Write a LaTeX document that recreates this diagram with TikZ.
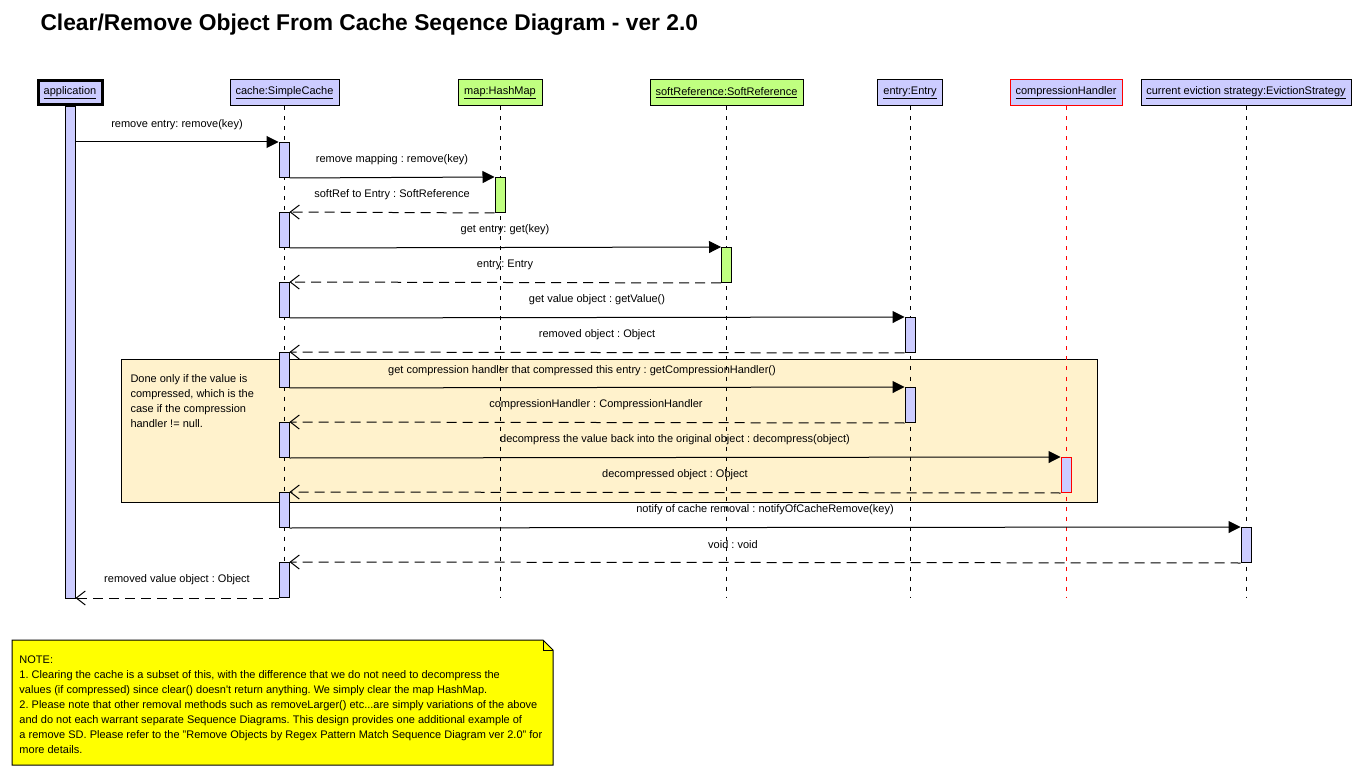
\documentclass[tikz,border=0pt]{standalone}
\usepackage{fontspec}
\setmainfont{Liberation Sans}
\usetikzlibrary{arrows.meta}
\definecolor{lav}{RGB}{204,204,255}
\definecolor{lgreen}{RGB}{192,255,128}
\definecolor{grpfill}{RGB}{255,242,204}
\definecolor{noteY}{RGB}{255,255,0}
\definecolor{redc}{RGB}{255,0,0}
\frenchspacing
\begin{document}
\begin{tikzpicture}[x=1pt,y=-1pt, line width=1pt,
 hdr/.style={draw, fill=lav, minimum height=26pt, inner sep=0pt, font=\fontsize{11}{13}\selectfont},
 bar/.style={draw, fill=lav, minimum width=10pt, minimum height=35pt, inner sep=0pt, anchor=north},
 lbl/.style={font=\fontsize{11}{13}\selectfont, inner sep=0pt},
 life/.style={dash pattern=on 4pt off 6pt},
 sync/.style={-{Triangle[length=12pt,width=12pt]}},
 ret/.style={dash pattern=on 10pt off 6pt, -{Straight Barb[length=9pt,width=14pt]}},
]
\useasboundingbox (0,0) rectangle (1362,775);
\fill[white] (0,0) rectangle (1362,775);

% title
\node[anchor=west, inner sep=0pt, font=\fontsize{22.8}{26}\selectfont\bfseries] (title) at (40,25) {Clear/Remove Object From Cache Seqence Diagram - ver 2.0};

% group box
\draw[fill=grpfill] (121,359) rectangle (1097,502);
\node[anchor=north west, align=left, inner sep=0pt, font=\fontsize{11}{15}\selectfont] (grptxt) at (130,374)
 {Done only if the value is\\compressed, which is the\\case if the compression\\handler != null.};

% headers
\node[hdr, line width=3pt, minimum width=64pt, minimum height=24pt] (happ) at (70,93) {\underline{application}};
\node[hdr, minimum width=109pt] (hcache) at (284.5,93) {\underline{cache:SimpleCache}};
\node[hdr, fill=lgreen, minimum width=84pt] (hmap) at (500,93) {\underline{map:HashMap}};
\node[hdr, fill=lgreen, minimum width=153pt] (hsoft) at (726.5,93) {\underline{softReference:SoftReference}};
\node[hdr, minimum width=65pt] (hentry) at (910,93) {\underline{entry:Entry}};
\node[hdr, draw=redc, minimum width=112pt] (hcomp) at (1066,93) {\underline{compressionHandler}};
\node[hdr, minimum width=210pt] (hevict) at (1246,93) {\underline{current eviction strategy:EvictionStrategy}};

% lifeline ends
\coordinate (ecache) at (284.5,597);
\coordinate (emap) at (500,597);
\coordinate (esoft) at (726.5,597);
\coordinate (eentry) at (910,597);
\coordinate (ecomp) at (1066,597);
\coordinate (eevict) at (1246,597);

\draw[life] (hcache.south) -- (ecache);
\draw[life] (hmap.south) -- (emap);
\draw[life] (hsoft.south) -- (esoft);
\draw[life] (hentry.south) -- (eentry);
\draw[life, draw=redc] (hcomp.south) -- (ecomp);
\draw[life] (hevict.south) -- (eevict);

% activation bars
\node[bar, minimum height=492pt] (abar) at (70,106) {};
\node[bar] (c1) at (284,142) {};
\node[bar] (c2) at (284,212) {};
\node[bar] (c3) at (284,282) {};
\node[bar] (c4) at (284,352) {};
\node[bar] (c5) at (284,422) {};
\node[bar] (c6) at (284,492) {};
\node[bar] (c7) at (284,562) {};
\node[bar, fill=lgreen] (m1) at (500,177) {};
\node[bar, fill=lgreen] (s1) at (726.5,247) {};
\node[bar] (e1) at (910,317) {};
\node[bar] (e2) at (910,387) {};
\node[bar, draw=redc] (h1) at (1066,457) {};
\node[bar] (v1) at (1246,527) {};

% messages
\draw[sync] (abar.east |- c1.north) -- (c1.north west);
\draw[sync] (c1.south east) -- (m1.north west);
\draw[ret] (m1.south west) -- (c2.north east);
\draw[sync] (c2.south east) -- (s1.north west);
\draw[ret] (s1.south west) -- (c3.north east);
\draw[sync] (c3.south east) -- (e1.north west);
\draw[ret] (e1.south west) -- (c4.north east);
\draw[sync] (c4.south east) -- (e2.north west);
\draw[ret] (e2.south west) -- (c5.north east);
\draw[sync] (c5.south east) -- (h1.north west);
\draw[ret] (h1.south west) -- (c6.north east);
\draw[sync] (c6.south east) -- (v1.north west);
\draw[ret] (v1.south west) -- (c7.north east);
\draw[ret] (c7.south west) -- (abar.east |- c7.south);

% labels
\node[lbl] (l1) at (177,125) {remove entry: remove(key)};
\node[lbl] (l2) at (392,160) {remove mapping : remove(key)};
\node[lbl] (l3) at (392,195) {softRef to Entry : SoftReference};
\node[lbl] (l4) at (505,230) {get entry: get(key)};
\node[lbl] (l5) at (505,265) {entry: Entry};
\node[lbl] (l6) at (597,300) {get value object : getValue()};
\node[lbl] (l7) at (597,335) {removed object : Object};
\node[lbl] (l8) at (582,371) {get compression handler that compressed this entry : getCompressionHandler()};
\node[lbl] (l9) at (596,405) {compressionHandler : CompressionHandler};
\node[lbl] (l10) at (675,440) {decompress the value back into the original object : decompress(object)};
\node[lbl] (l11) at (675,475) {decompressed object : Object};
\node[lbl] (l12) at (765,510) {notify of cache removal : notifyOfCacheRemove(key)};
\node[lbl] (l13) at (733,545) {void : void};
\node[lbl] (l14) at (177,580) {removed value object : Object};

% note
\draw[fill=noteY] (12,640) -- (543,640) -- (553,650) -- (553,765) -- (12,765) -- cycle;
\draw (543,640) -- (543,650) -- (553,650);
\node[anchor=north west, align=left, inner sep=0pt, font=\fontsize{11}{15}\selectfont] (notetxt) at (19,655)
 {NOTE:\\
 1. Clearing the cache is a subset of this, with the difference that we do not need to decompress the\\
 values (if compressed) since clear() doesn\textquotesingle t return anything. We simply clear the map HashMap.\\
 2. Please note that other removal methods such as removeLarger() etc...are simply variations of the above\\
 and do not each warrant separate Sequence Diagrams. This design provides one additional example of\\
 a remove SD. Please refer to the "Remove Objects by Regex Pattern Match Sequence Diagram ver 2.0" for\\
 more details.};
\end{tikzpicture}
\end{document}
